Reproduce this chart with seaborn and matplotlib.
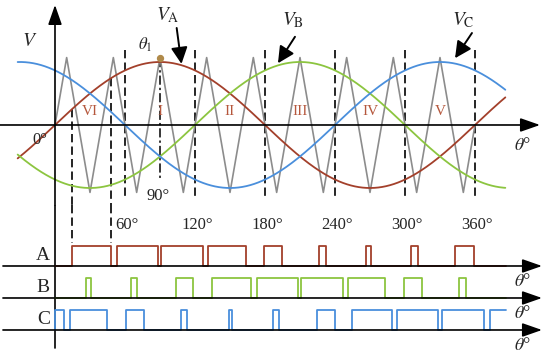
import numpy as np
import pandas as pd
import seaborn as sns
import matplotlib.pyplot as plt

# ---- data (angles in degrees) ----
phases = ["A", "B", "C"]
phase_shift = [0, 120, 240]          # V_A, V_B, V_C lag
phase_colors = ["#a3402b", "#8cc540", "#4a8fdc"]
sine_amp = 1.0
theta_start, theta_end = -32, 386

# triangular carrier vertices
carrier_deg = [0, 10, 30, 50, 70, 90, 110, 130, 150, 170, 190, 210, 230,
               250, 270, 290, 310, 330, 350, 360]
carrier_val = [0, 1.07, -1.07, 1.07, -1.07, 1.07, -1.07, 1.07, -1.07, 1.07,
               -1.07, 1.07, -1.07, 1.07, -1.07, 1.07, -1.07, 1.07, -1.07, 0]

# PWM pulses (start, end)
pulses_A = [(15, 48), (53, 88), (91, 127), (131, 164), (179, 195),
            (226, 232), (267, 271), (305, 311), (343, 359)]
pulses_B = [(27, 31), (65, 70), (104, 118), (135, 168), (173, 208),
            (211, 247), (251, 283), (299, 315), (346, 352)]
pulses_C = [(0, 8), (13, 45), (61, 76), (108, 113), (149, 152), (187, 192),
            (225, 240), (255, 289), (293, 328), (332, 368), (373, 387)]
signal_end = 387

sector_labels = ["VI", "I", "II", "III", "IV", "V"]
sector_centers = [30, 90, 150, 210, 270, 330]
tick_angles = [60, 120, 180, 240, 300, 360]

# ---- style ----
sns.set_style("white")
plt.rcParams["font.family"] = ["Liberation Serif", "DejaVu Serif"]
plt.rcParams["mathtext.fontset"] = "stix"

fig = plt.figure(figsize=(5.5, 3.57), dpi=100)
ax = fig.add_axes([0, 152 / 357, 1, 205 / 357])
axb = fig.add_axes([0, 0, 1, 152 / 357])
for a in (ax, axb):
    a.set_xlim(-47.14, 424.29)
    a.axis("off")
ax.set_ylim(-1.27, 1.984)
axb.set_ylim(-0.844, 3.906)

arrow = dict(arrowstyle="-|>,head_length=1.2,head_width=0.42", color="k",
             lw=1.2, mutation_scale=10, shrinkA=0, shrinkB=0)
dash = (0, (5, 2.5))

# ---- upper plot: sines and carrier ----
theta = np.linspace(theta_start, theta_end, 500)
sines = pd.concat([
    pd.DataFrame({"theta": theta,
                  "v": sine_amp * np.sin(np.radians(theta - s)),
                  "phase": p})
    for p, s in zip(phases, phase_shift)])

# axes
ax.annotate("", xy=(415.7, 0), xytext=(-47.14, 0), arrowprops=arrow)
ax.annotate("", xy=(0, 1.905), xytext=(0, -1.27), arrowprops=arrow)

# dashed sector lines
for t in tick_angles:
    ax.plot([t, t], [1.19, -1.13], color="k", lw=1.2, ls=dash)
ax.plot([90, 90], [1.07, -0.87], color="k", lw=1.1, ls=(0, (6, 2, 1.5, 2)))

# pulse edge projections of first A pulse
for t in pulses_A[0]:
    ax.plot([t, t], [np.sin(np.radians(t)), -1.27], color="k", lw=1.2, ls=dash)
    axb.plot([t, t], [3.906, 2.72], color="k", lw=1.2, ls=dash)

sns.lineplot(x=carrier_deg, y=carrier_val, ax=ax, color="#8c8c8c", lw=1.2,
             sort=False, estimator=None)
sns.lineplot(data=sines, x="theta", y="v", hue="phase", palette=phase_colors,
             ax=ax, lw=1.3, legend=False, estimator=None, sort=False)

ax.scatter([90], [1.07], s=18, color="#b08a4a", zorder=5)

for lab, c in zip(sector_labels, sector_centers):
    ax.text(c, 0.21, lab, color="#b5573c", fontsize=11, ha="center",
            va="center")

ax.text(-21.4, 1.32, "$V$", fontsize=14, ha="center", va="center")
ax.text(77, 1.27, r"$\theta_{1}$", fontsize=12, ha="center", va="center")
ax.text(-12.9, -0.24, "0°", fontsize=12, ha="center", va="center")
ax.text(88, -1.13, "90°", fontsize=12, ha="center", va="center")
ax.text(401, -0.32, r"$\theta$°", fontsize=13, ha="center", va="center")

name_pos = [(96.9, 1.75), (204, 1.67), (349.7, 1.67)]
arrow_from = [(104.3, 1.54), (205.7, 1.40), (357.4, 1.46)]
arrow_to = [(108.4, 0.97), (191.1, 0.98), (342.9, 1.06)]
for p, npos, af, at in zip(phases, name_pos, arrow_from, arrow_to):
    ax.text(*npos, r"$V_{\mathrm{%s}}$" % p, fontsize=14, ha="center",
            va="center")
    ax.annotate("", xy=at, xytext=af,
                arrowprops=dict(arrowstyle="-|>,head_length=1.0,head_width=0.5",
                                color="k", lw=1.4, mutation_scale=10,
                                shrinkA=0, shrinkB=0))

# ---- lower plot: PWM signals ----
pulse_h = 0.625
levels = [2, 1, 0]
axb.plot([0, 0], [-0.5625, 3.906], color="k", lw=1.2)
for t in tick_angles:
    axb.text(t + 2, 3.28, f"{t}°", fontsize=12, ha="center", va="center")

rows = []
for p, pulses, base in zip(phases, [pulses_A, pulses_B, pulses_C], levels):
    xs, ys = [0], [base]
    for s, e in pulses:
        xs += [s, s, e, e]
        ys += [base, base + pulse_h, base + pulse_h, base]
    if xs[-1] >= signal_end:
        xs, ys = xs[:-1], ys[:-1]
        xs[-1] = signal_end
    else:
        xs.append(signal_end)
        ys.append(base)
    rows.append(pd.DataFrame({"theta": xs, "level": ys, "phase": p}))
    axb.annotate("", xy=(417.4, base), xytext=(-44.6, base), arrowprops=arrow)
    axb.text(-4.3, base + 0.34, p, fontsize=14, ha="right", va="center")
    axb.text(401, base - 0.5, r"$\theta$°", fontsize=13, ha="center",
             va="center")
pwm = pd.concat(rows)
sns.lineplot(data=pwm, x="theta", y="level", hue="phase",
             palette=phase_colors, ax=axb, lw=1.3, legend=False,
             estimator=None, sort=False)

fig.savefig("out.png", dpi=100)
